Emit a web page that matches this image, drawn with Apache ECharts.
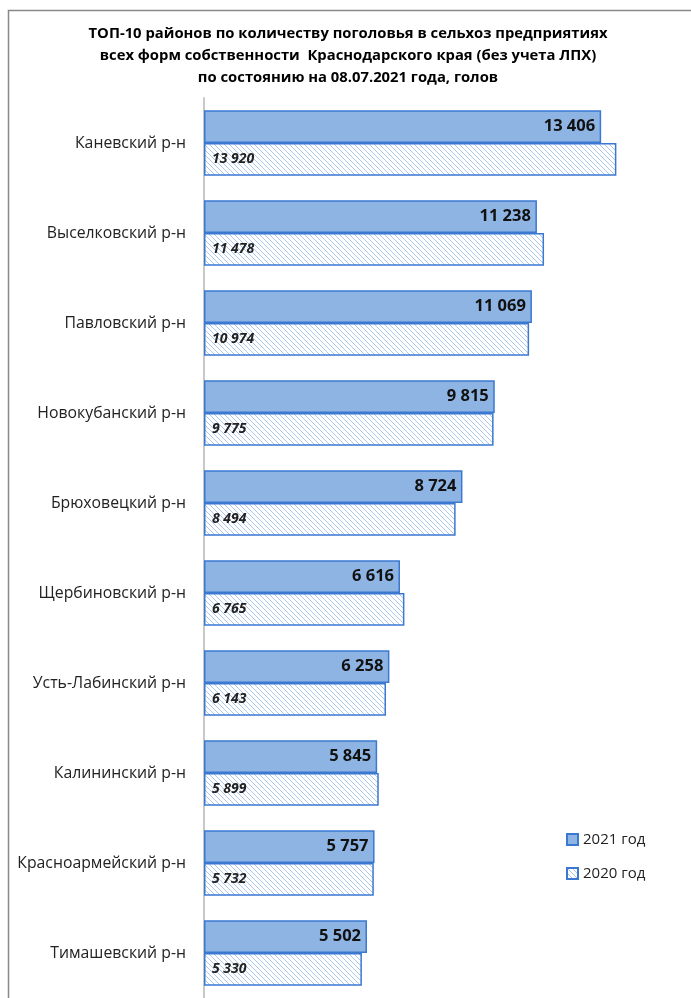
<!DOCTYPE html>
<html><head><meta charset="utf-8">
<script src="https://cdn.jsdelivr.net/npm/echarts@6/dist/echarts.min.js"></script>
<style>html,body{margin:0;padding:0;background:#fff}#c{width:691px;height:998px}</style>
</head><body><div id="c"></div>
<script>
const categories = ['Каневский р-н','Выселковский р-н','Павловский р-н','Новокубанский р-н','Брюховецкий р-н','Щербиновский р-н','Усть-Лабинский р-н','Калининский р-н','Красноармейский р-н','Тимашевский р-н'];
const values2021 = [13406,11238,11069,9815,8724,6616,6258,5845,5757,5502];
const values2020 = [13920,11478,10974,9775,8494,6765,6143,5899,5732,5330];
const seriesNames = ['2021 год','2020 год'];

function fmt(v){ return String(v).replace(/\B(?=(\d{3})+(?!\d))/g,' '); }

const pc = document.createElement('canvas');
pc.width = 5; pc.height = 5;
const g = pc.getContext('2d');
g.fillStyle = '#fff'; g.fillRect(0,0,5,5);
g.strokeStyle = '#abc8ec'; g.lineWidth = 1;
g.beginPath(); g.moveTo(-1,-1); g.lineTo(6,6); g.stroke();
g.beginPath(); g.moveTo(-1,4); g.lineTo(1,6); g.stroke();
g.beginPath(); g.moveTo(4,-1); g.lineTo(6,1); g.stroke();
const hatch = {image: pc, repeat: 'repeat'};

const font = '"Open Sans", "Noto Sans", sans-serif';
const chart = echarts.init(document.getElementById('c'));
chart.setOption({
  animation: false,
  textStyle: {fontFamily: font},
  graphic: [{
    type: 'rect', shape: {x: 8.5, y: 10.5, width: 720, height: 1000},
    style: {fill: 'none', stroke: '#888', lineWidth: 1.5}, silent: true
  }],
  title: {
    text: 'ТОП-10 районов по количеству поголовья в сельхоз предприятиях\nвсех форм собственности  Краснодарского края (без учета ЛПХ)\nпо состоянию на 08.07.2021 года, голов',
    left: 343, top: 18, textAlign: 'center',
    textStyle: {fontFamily: font, fontSize: 14.8, fontWeight: 'bold', color: '#000', lineHeight: 22}
  },
  legend: {
    orient: 'vertical', left: 561, top: 827, itemWidth: 11, itemHeight: 11, itemGap: 19,
    icon: 'rect',
    textStyle: {fontFamily: font, fontSize: 15, color: '#222'},
    data: seriesNames
  },
  grid: {left: 204, right: 13, top: 98, height: 903, containLabel: false},
  xAxis: {type: 'value', min: 0, max: 16000, show: false},
  yAxis: {
    type: 'category', data: categories, inverse: true,
    axisLine: {show: true, lineStyle: {color: '#c8c8c8', width: 2}},
    axisTick: {show: false},
    axisLabel: {margin: 18, fontSize: 15.8, color: '#222', fontFamily: font}
  },
  series: [
    {
      name: seriesNames[0], type: 'bar', data: values2021,
      barGap: '0%', barCategoryGap: '27%',
      itemStyle: {color: '#8eb4e3', borderColor: '#3a78d2', borderWidth: 1.5},
      label: {show: true, position: 'insideRight', offset: [-1,0], formatter: p => fmt(p.value),
        fontSize: 16.5, fontWeight: 'bold', color: '#111', fontFamily: font}
    },
    {
      name: seriesNames[1], type: 'bar', data: values2020,
      itemStyle: {color: hatch, borderColor: '#3a78d2', borderWidth: 1.5},
      label: {show: true, position: 'insideLeft', offset: [3,0], formatter: p => fmt(p.value),
        fontSize: 14, fontWeight: 'bold', fontStyle: 'italic', color: '#222', fontFamily: font}
    }
  ]
});
</script></body></html>
